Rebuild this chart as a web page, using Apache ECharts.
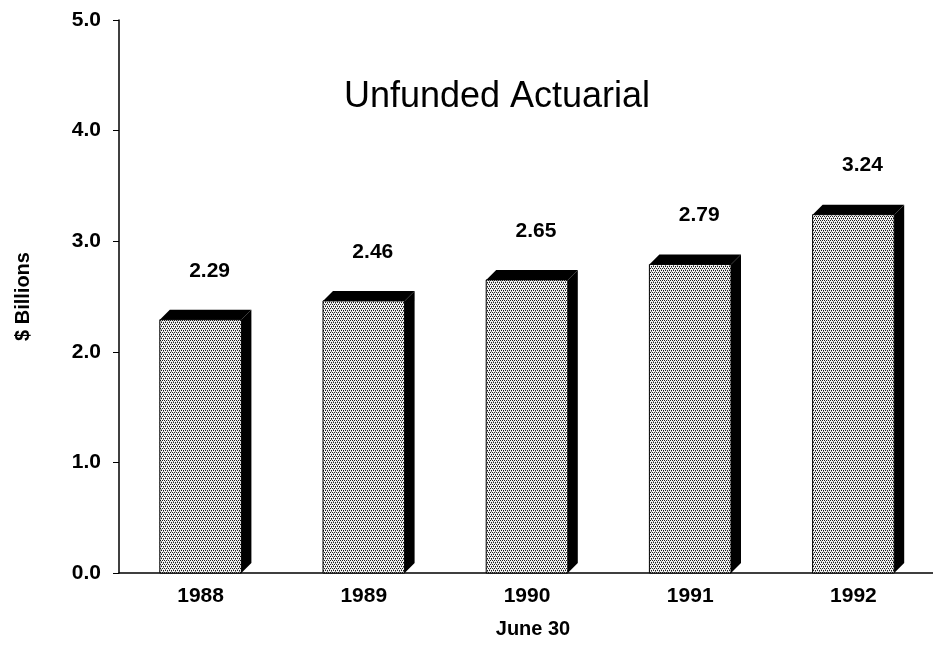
<!DOCTYPE html>
<html>
<head>
<meta charset="utf-8">
<script src="https://cdn.jsdelivr.net/npm/echarts@6/dist/echarts.min.js"></script>
<style>
  html, body { margin: 0; padding: 0; background: #fff; }
  #chart { width: 933px; height: 646px; }
</style>
</head>
<body>
<div id="chart"></div>
<script>
// data
var years = ["1988", "1989", "1990", "1991", "1992"];
var unfunded = [2.29, 2.46, 2.65, 2.79, 3.24];
var yTicks = [0, 1, 2, 3, 4, 5];

// halftone fill for the bar faces
var tile = document.createElement("canvas");
tile.width = 4;
tile.height = 4;
var tctx = tile.getContext("2d");
tctx.fillStyle = "#f4f4f4";
tctx.fillRect(0, 0, 4, 4);
tctx.fillStyle = "#1e1e1e";
[[0, 0], [2, 0], [1, 2], [3, 2]].forEach(function (p) {
  tctx.fillRect(p[0], p[1], 1, 1);
});
tctx.fillStyle = "#808080";
[[1, 1], [3, 3]].forEach(function (p) {
  tctx.fillRect(p[0], p[1], 1, 1);
});

var chart = echarts.init(document.getElementById("chart"));
var depth = 10;
var labelFont = "bold 21px 'Liberation Sans', Arial, sans-serif";

function renderBar(params, api) {
  var idx = api.value(0);
  var top = api.coord([idx, api.value(1)]);
  var base = api.coord([idx, 0]);
  var half = api.size([1, 0])[0] * 0.25;
  var x0 = top[0] - half, x1 = top[0] + half;
  var y0 = top[1], y1 = base[1];
  return {
    type: "group",
    children: [
      {
        type: "rect",
        shape: { x: x0, y: y0, width: x1 - x0, height: y1 - y0 },
        style: { fill: { image: tile, repeat: "repeat" }, stroke: "#000", lineWidth: 1 }
      },
      {
        type: "polygon",
        shape: { points: [[x1, y0], [x1 + depth, y0 - depth], [x1 + depth, y1 - depth], [x1, y1]] },
        style: { fill: "#000" }
      },
      {
        type: "polygon",
        shape: { points: [[x0, y0], [x0 + depth, y0 - depth], [x1 + depth, y0 - depth], [x1, y0]] },
        style: { fill: "#000" }
      },
      {
        type: "text",
        style: {
          text: api.value(1).toFixed(2),
          x: top[0] + 9,
          y: y0 - 49,
          align: "center",
          verticalAlign: "middle",
          fill: "#000",
          font: labelFont
        }
      }
    ]
  };
}

var option = {
  animation: false,
  title: {
    text: "Unfunded Actuarial",
    left: 492,
    top: 74,
    textAlign: "center",
    textStyle: {
      fontFamily: "Liberation Sans",
      fontSize: 36,
      fontWeight: "normal",
      color: "#000"
    }
  },
  grid: { left: 119, right: -2, top: 20, bottom: 73, outerBoundsMode: "none", containLabel: false },
  xAxis: {
    type: "category",
    data: years,
    name: "June 30",
    nameLocation: "middle",
    nameGap: 46,
    nameTextStyle: { fontFamily: "Liberation Sans", fontSize: 20, fontWeight: "bold", color: "#000", padding: [0, 0, 0, 12] },
    axisLine: { lineStyle: { color: "#000", width: 1.5 } },
    axisTick: { alignWithLabel: true, inside: true, length: 5, lineStyle: { color: "#000" } },
    axisLabel: { margin: 13, fontFamily: "Liberation Sans", fontSize: 21, fontWeight: "bold", color: "#000" },
    splitLine: { show: false }
  },
  yAxis: {
    type: "value",
    min: 0,
    max: 5,
    interval: 1,
    name: "$ Billions",
    nameLocation: "middle",
    nameGap: 86,
    nameTextStyle: { fontFamily: "Liberation Sans", fontSize: 20, fontWeight: "bold", color: "#000" },
    axisLine: { show: true, lineStyle: { color: "#000", width: 1.5 } },
    axisTick: { show: true, length: 6, lineStyle: { color: "#000" } },
    axisLabel: {
      margin: 18,
      fontFamily: "Liberation Sans",
      fontSize: 21,
      fontWeight: "bold",
      color: "#000",
      formatter: function (v) { return yTicks.indexOf(v) >= 0 ? v.toFixed(1) : ""; }
    },
    splitLine: { show: false }
  },
  series: [
    {
      type: "custom",
      renderItem: renderBar,
      encode: { x: 0, y: 1 },
      data: unfunded.map(function (v, i) { return [i, v]; })
    }
  ]
};

chart.setOption(option);
</script>
</body>
</html>
